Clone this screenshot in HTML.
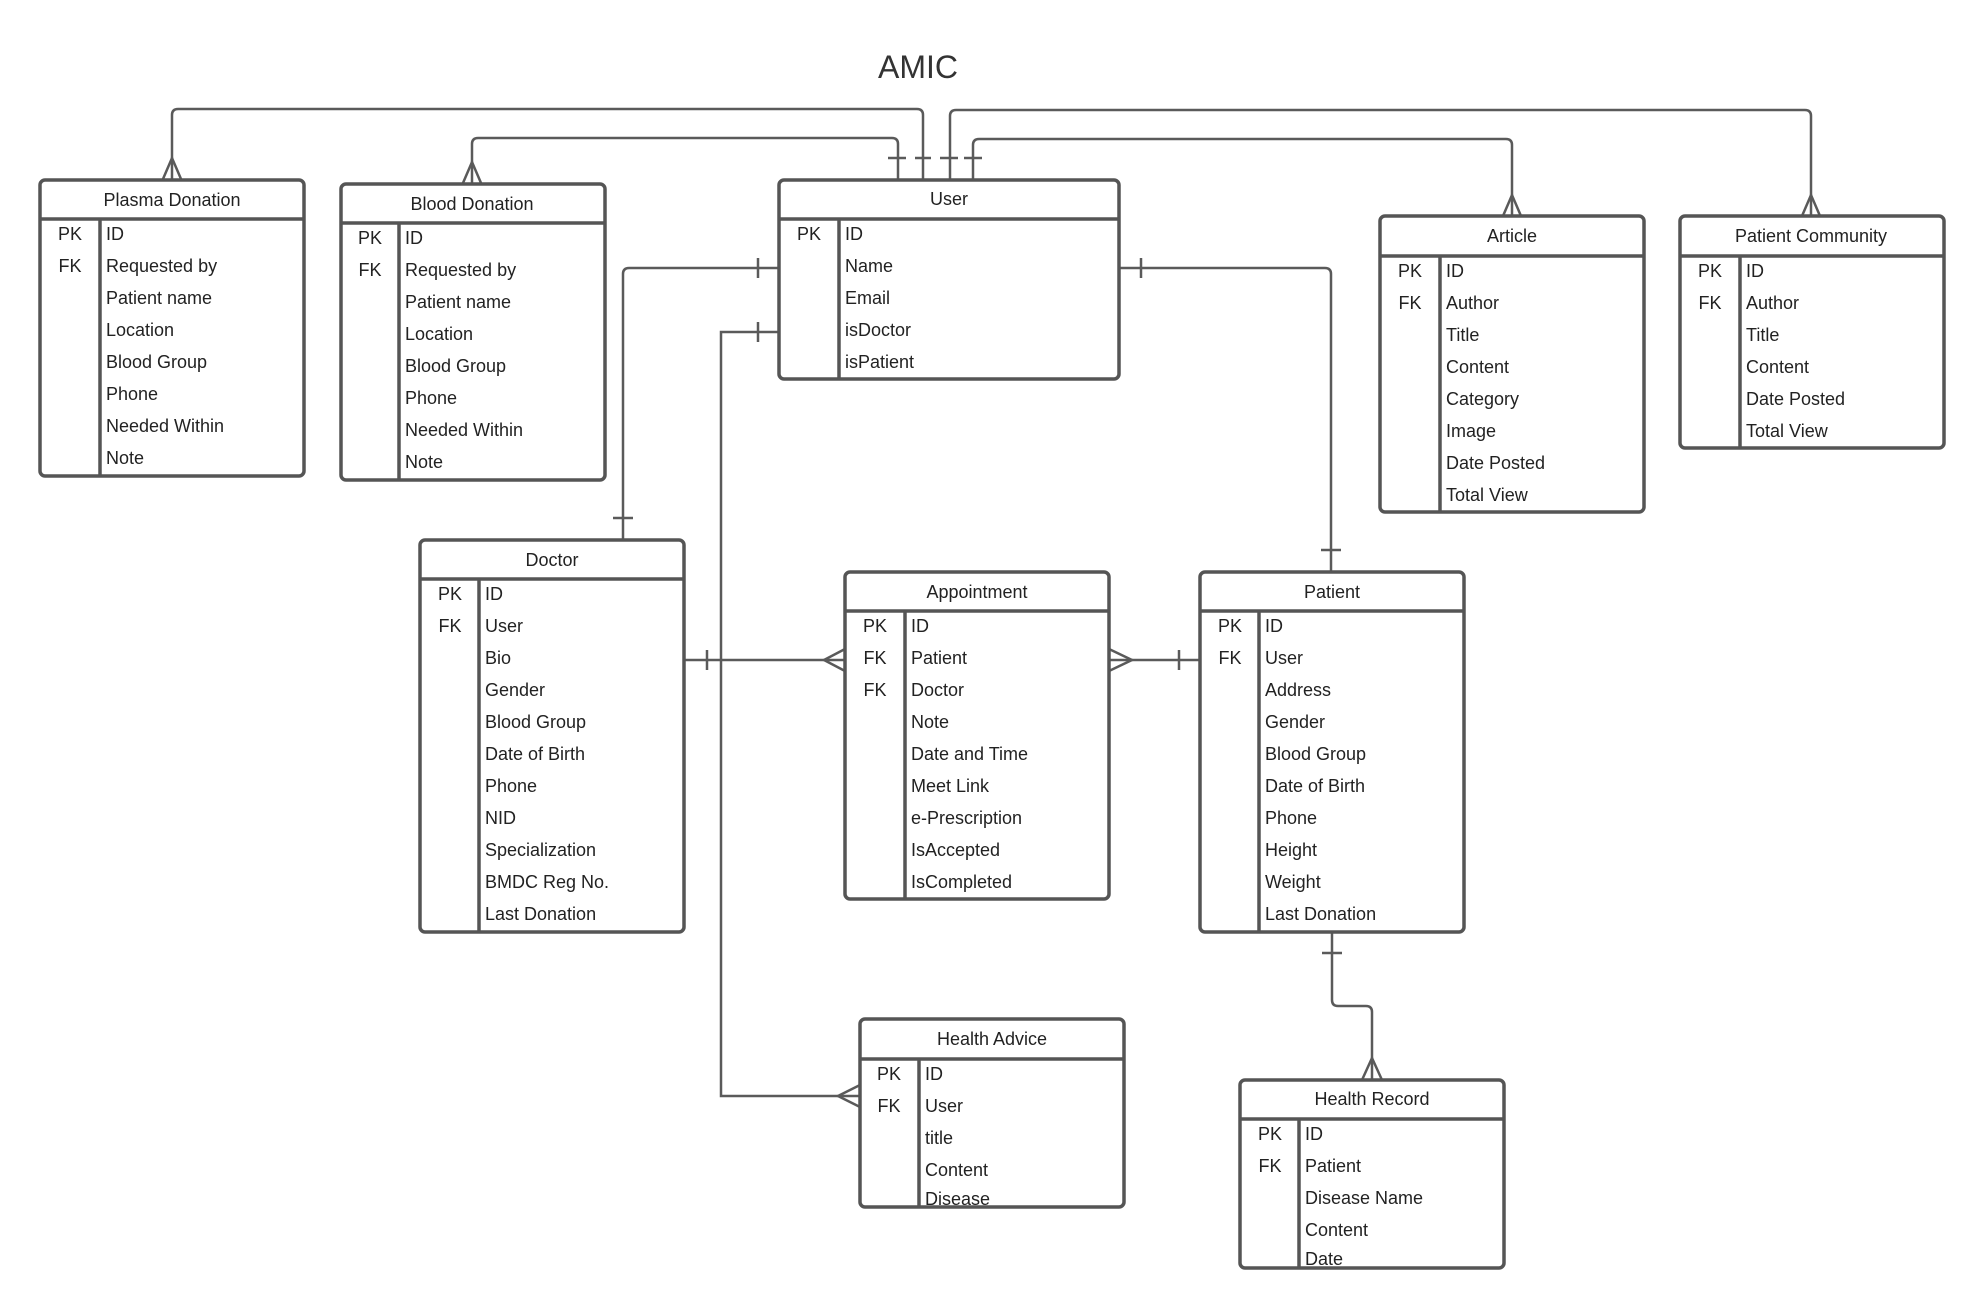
<!DOCTYPE html>
<html><head><meta charset="utf-8"><style>
html,body{margin:0;padding:0;background:#fff;}
svg{display:block;}
text{font-family:"Liberation Sans",Arial,sans-serif;fill:#222;font-size:18px;}
.l{fill:none;stroke:#5a5a5a;stroke-width:2.5;}
.b{fill:none;stroke:#555;stroke-width:3.5;}
</style></head><body>
<svg width="1985" height="1308" viewBox="0 0 1985 1308" xmlns="http://www.w3.org/2000/svg">
<text x="918" y="78" text-anchor="middle" style="font-size:32px;fill:#333">AMIC</text>

<g class="l">
<path d="M923,180 V115 Q923,109 917,109 H178 Q172,109 172,115 V179"/>
<path d="M163,179 L172,158 L181,179"/>
<path d="M898,180 V144 Q898,138 892,138 H478 Q472,138 472,144 V183"/>
<path d="M463,183 L472,162 L481,183"/>
<path d="M950,180 V116 Q950,110 956,110 H1805 Q1811,110 1811,116 V216"/>
<path d="M1802,216 L1811,195 L1820,216"/>
<path d="M973,180 V145 Q973,139 979,139 H1506 Q1512,139 1512,145 V216"/>
<path d="M1503,216 L1512,195 L1521,216"/>
<path d="M888,158 H906 M915,158 H931 M940,158 H958 M964,158 H982"/>

<path d="M779,268 H629 Q623,268 623,274 V540"/>
<path d="M758,258 V278 M613,518 H633"/>
<path d="M1119,268 H1325 Q1331,268 1331,274 V572"/>
<path d="M1141,258 V278 M1321,550 H1341"/>

<path d="M779,332 H721 V1096 H860"/>
<path d="M758,322 V342"/>
<path d="M860,1085 L838,1096 L860,1107"/>

<path d="M684,660 H845"/>
<path d="M707,650 V670"/>
<path d="M845,649 L824,660 L845,671"/>

<path d="M1109,660 H1200"/>
<path d="M1109,649 L1132,660 L1109,671"/>
<path d="M1179,650 V670"/>

<path d="M1332,932 V1000 Q1332,1006 1338,1006 H1366 Q1372,1006 1372,1012 V1080"/>
<path d="M1322,953 H1342"/>
<path d="M1362,1080 L1372,1058 L1382,1080"/>
</g>

<g>
<rect class="b" x="40" y="180" width="264" height="296" rx="5"/>
<path class="b" d="M40,219 H304 M100,219 V476"/>
<text x="172" y="206" text-anchor="middle">Plasma Donation</text>
<text x="70" y="240" text-anchor="middle">PK</text><text x="70" y="272" text-anchor="middle">FK</text>
<text x="106" y="240">ID</text><text x="106" y="272">Requested by</text><text x="106" y="304">Patient name</text><text x="106" y="336">Location</text><text x="106" y="368">Blood Group</text><text x="106" y="400">Phone</text><text x="106" y="432">Needed Within</text><text x="106" y="464">Note</text>
</g>

<g>
<rect class="b" x="341" y="184" width="264" height="296" rx="5"/>
<path class="b" d="M341,223 H605 M399,223 V480"/>
<text x="472" y="210" text-anchor="middle">Blood Donation</text>
<text x="370" y="244" text-anchor="middle">PK</text><text x="370" y="276" text-anchor="middle">FK</text>
<text x="405" y="244">ID</text><text x="405" y="276">Requested by</text><text x="405" y="308">Patient name</text><text x="405" y="340">Location</text><text x="405" y="372">Blood Group</text><text x="405" y="404">Phone</text><text x="405" y="436">Needed Within</text><text x="405" y="468">Note</text>
</g>

<g>
<rect class="b" x="779" y="180" width="340" height="199" rx="5"/>
<path class="b" d="M779,219 H1119 M839,219 V379"/>
<text x="949" y="205" text-anchor="middle">User</text>
<text x="809" y="240" text-anchor="middle">PK</text>
<text x="845" y="240">ID</text><text x="845" y="272">Name</text><text x="845" y="304">Email</text><text x="845" y="336">isDoctor</text><text x="845" y="368">isPatient</text>
</g>

<g>
<rect class="b" x="1380" y="216" width="264" height="296" rx="5"/>
<path class="b" d="M1380,256 H1644 M1440,256 V512"/>
<text x="1512" y="242" text-anchor="middle">Article</text>
<text x="1410" y="277" text-anchor="middle">PK</text><text x="1410" y="309" text-anchor="middle">FK</text>
<text x="1446" y="277">ID</text><text x="1446" y="309">Author</text><text x="1446" y="341">Title</text><text x="1446" y="373">Content</text><text x="1446" y="405">Category</text><text x="1446" y="437">Image</text><text x="1446" y="469">Date Posted</text><text x="1446" y="501">Total View</text>
</g>

<g>
<rect class="b" x="1680" y="216" width="264" height="232" rx="5"/>
<path class="b" d="M1680,256 H1944 M1740,256 V448"/>
<text x="1811" y="242" text-anchor="middle">Patient Community</text>
<text x="1710" y="277" text-anchor="middle">PK</text><text x="1710" y="309" text-anchor="middle">FK</text>
<text x="1746" y="277">ID</text><text x="1746" y="309">Author</text><text x="1746" y="341">Title</text><text x="1746" y="373">Content</text><text x="1746" y="405">Date Posted</text><text x="1746" y="437">Total View</text>
</g>

<g>
<rect class="b" x="420" y="540" width="264" height="392" rx="5"/>
<path class="b" d="M420,579 H684 M479,579 V932"/>
<text x="552" y="566" text-anchor="middle">Doctor</text>
<text x="450" y="600" text-anchor="middle">PK</text><text x="450" y="632" text-anchor="middle">FK</text>
<text x="485" y="600">ID</text><text x="485" y="632">User</text><text x="485" y="664">Bio</text><text x="485" y="696">Gender</text><text x="485" y="728">Blood Group</text><text x="485" y="760">Date of Birth</text><text x="485" y="792">Phone</text><text x="485" y="824">NID</text><text x="485" y="856">Specialization</text><text x="485" y="888">BMDC Reg No.</text><text x="485" y="920">Last Donation</text>
</g>

<g>
<rect class="b" x="845" y="572" width="264" height="327" rx="5"/>
<path class="b" d="M845,611 H1109 M905,611 V899"/>
<text x="977" y="598" text-anchor="middle">Appointment</text>
<text x="875" y="632" text-anchor="middle">PK</text><text x="875" y="664" text-anchor="middle">FK</text><text x="875" y="696" text-anchor="middle">FK</text>
<text x="911" y="632">ID</text><text x="911" y="664">Patient</text><text x="911" y="696">Doctor</text><text x="911" y="728">Note</text><text x="911" y="760">Date and Time</text><text x="911" y="792">Meet Link</text><text x="911" y="824">e-Prescription</text><text x="911" y="856">IsAccepted</text><text x="911" y="888">IsCompleted</text>
</g>

<g>
<rect class="b" x="1200" y="572" width="264" height="360" rx="5"/>
<path class="b" d="M1200,611 H1464 M1259,611 V932"/>
<text x="1332" y="598" text-anchor="middle">Patient</text>
<text x="1230" y="632" text-anchor="middle">PK</text><text x="1230" y="664" text-anchor="middle">FK</text>
<text x="1265" y="632">ID</text><text x="1265" y="664">User</text><text x="1265" y="696">Address</text><text x="1265" y="728">Gender</text><text x="1265" y="760">Blood Group</text><text x="1265" y="792">Date of Birth</text><text x="1265" y="824">Phone</text><text x="1265" y="856">Height</text><text x="1265" y="888">Weight</text><text x="1265" y="920">Last Donation</text>
</g>

<g>
<rect class="b" x="860" y="1019" width="264" height="188" rx="5"/>
<path class="b" d="M860,1059 H1124 M919,1059 V1207"/>
<text x="992" y="1045" text-anchor="middle">Health Advice</text>
<text x="889" y="1080" text-anchor="middle">PK</text><text x="889" y="1112" text-anchor="middle">FK</text>
<text x="925" y="1080">ID</text><text x="925" y="1112">User</text><text x="925" y="1144">title</text><text x="925" y="1176">Content</text><text x="925" y="1205">Disease</text>
</g>

<g>
<rect class="b" x="1240" y="1080" width="264" height="188" rx="5"/>
<path class="b" d="M1240,1119 H1504 M1299,1119 V1268"/>
<text x="1372" y="1105" text-anchor="middle">Health Record</text>
<text x="1270" y="1140" text-anchor="middle">PK</text><text x="1270" y="1172" text-anchor="middle">FK</text>
<text x="1305" y="1140">ID</text><text x="1305" y="1172">Patient</text><text x="1305" y="1204">Disease Name</text><text x="1305" y="1236">Content</text><text x="1305" y="1265">Date</text>
</g>
</svg>
</body></html>
